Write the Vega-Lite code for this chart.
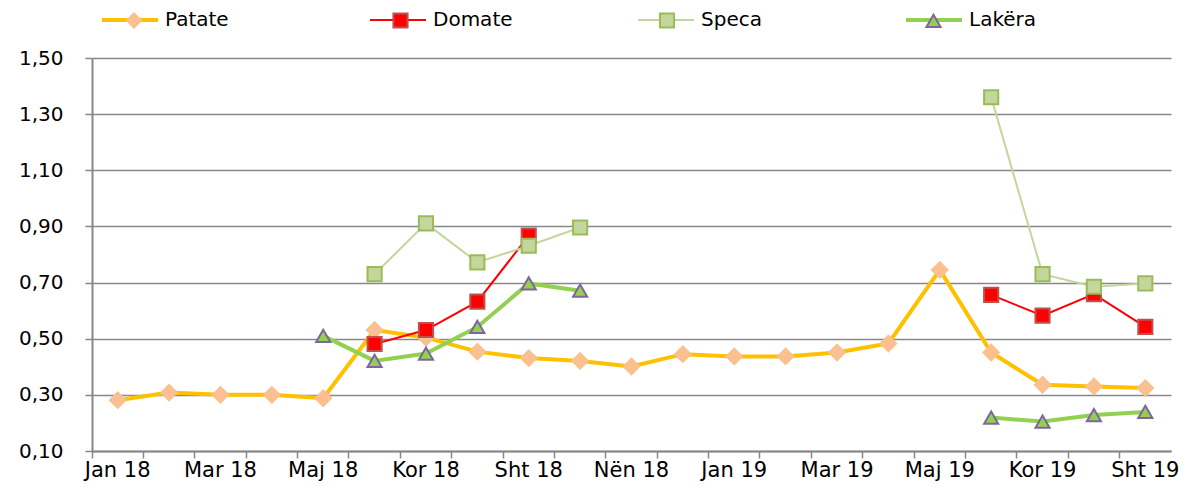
{
  "$schema": "https://vega.github.io/schema/vega-lite/v6.json",
  "autosize": "none",
  "width": 1079,
  "height": 393,
  "padding": {"left": 92, "top": 58, "right": 19, "bottom": 44},
  "background": "white",
  "config": {"view": {"stroke": null}, "font": "DejaVu Sans"},
  "data": {
    "values": [
      {"d": "2018-01-01", "s": "Patate", "v": 0.281, "g": "a"},
      {"d": "2018-02-01", "s": "Patate", "v": 0.308, "g": "a"},
      {"d": "2018-03-01", "s": "Patate", "v": 0.300, "g": "a"},
      {"d": "2018-04-01", "s": "Patate", "v": 0.300, "g": "a"},
      {"d": "2018-05-01", "s": "Patate", "v": 0.288, "g": "a"},
      {"d": "2018-06-01", "s": "Patate", "v": 0.531, "g": "a"},
      {"d": "2018-07-01", "s": "Patate", "v": 0.504, "g": "a"},
      {"d": "2018-08-01", "s": "Patate", "v": 0.454, "g": "a"},
      {"d": "2018-09-01", "s": "Patate", "v": 0.431, "g": "a"},
      {"d": "2018-10-01", "s": "Patate", "v": 0.421, "g": "a"},
      {"d": "2018-11-01", "s": "Patate", "v": 0.401, "g": "a"},
      {"d": "2018-12-01", "s": "Patate", "v": 0.445, "g": "a"},
      {"d": "2019-01-01", "s": "Patate", "v": 0.437, "g": "a"},
      {"d": "2019-02-01", "s": "Patate", "v": 0.437, "g": "a"},
      {"d": "2019-03-01", "s": "Patate", "v": 0.451, "g": "a"},
      {"d": "2019-04-01", "s": "Patate", "v": 0.483, "g": "a"},
      {"d": "2019-05-01", "s": "Patate", "v": 0.745, "g": "a"},
      {"d": "2019-06-01", "s": "Patate", "v": 0.451, "g": "a"},
      {"d": "2019-07-01", "s": "Patate", "v": 0.336, "g": "a"},
      {"d": "2019-08-01", "s": "Patate", "v": 0.330, "g": "a"},
      {"d": "2019-09-01", "s": "Patate", "v": 0.324, "g": "a"},
      {"d": "2018-06-01", "s": "Domate", "v": 0.481, "g": "a"},
      {"d": "2018-07-01", "s": "Domate", "v": 0.531, "g": "a"},
      {"d": "2018-08-01", "s": "Domate", "v": 0.632, "g": "a"},
      {"d": "2018-09-01", "s": "Domate", "v": 0.867, "g": "a"},
      {"d": "2019-06-01", "s": "Domate", "v": 0.656, "g": "b"},
      {"d": "2019-07-01", "s": "Domate", "v": 0.582, "g": "b"},
      {"d": "2019-08-01", "s": "Domate", "v": 0.659, "g": "b"},
      {"d": "2019-09-01", "s": "Domate", "v": 0.542, "g": "b"},
      {"d": "2018-06-01", "s": "Speca", "v": 0.730, "g": "a"},
      {"d": "2018-07-01", "s": "Speca", "v": 0.911, "g": "a"},
      {"d": "2018-08-01", "s": "Speca", "v": 0.772, "g": "a"},
      {"d": "2018-09-01", "s": "Speca", "v": 0.831, "g": "a"},
      {"d": "2018-10-01", "s": "Speca", "v": 0.896, "g": "a"},
      {"d": "2019-06-01", "s": "Speca", "v": 1.360, "g": "b"},
      {"d": "2019-07-01", "s": "Speca", "v": 0.730, "g": "b"},
      {"d": "2019-08-01", "s": "Speca", "v": 0.685, "g": "b"},
      {"d": "2019-09-01", "s": "Speca", "v": 0.697, "g": "b"},
      {"d": "2018-05-01", "s": "Lakëra", "v": 0.510, "g": "a"},
      {"d": "2018-06-01", "s": "Lakëra", "v": 0.421, "g": "a"},
      {"d": "2018-07-01", "s": "Lakëra", "v": 0.447, "g": "a"},
      {"d": "2018-08-01", "s": "Lakëra", "v": 0.542, "g": "a"},
      {"d": "2018-09-01", "s": "Lakëra", "v": 0.697, "g": "a"},
      {"d": "2018-10-01", "s": "Lakëra", "v": 0.671, "g": "a"},
      {"d": "2019-06-01", "s": "Lakëra", "v": 0.219, "g": "b"},
      {"d": "2019-07-01", "s": "Lakëra", "v": 0.205, "g": "b"},
      {"d": "2019-08-01", "s": "Lakëra", "v": 0.228, "g": "b"},
      {"d": "2019-09-01", "s": "Lakëra", "v": 0.239, "g": "b"}
    ]
  },
  "layer": [
    {
      "mark": {"type": "line"},
      "encoding": {
        "x": {
          "field": "d", "type": "ordinal", "timeUnit": "utcyearmonth",
          "scale": {"type": "band", "paddingInner": 0, "paddingOuter": 0},
          "axis": {
            "orient": "bottom", "title": null, "ticks": false, "grid": false,
            "domain": true, "domainColor": "#878787", "domainWidth": 2,
            "labelAngle": 0, "labelFontSize": 21, "labelColor": "#000", "labelPadding": 8,
            "labelFont": "DejaVu Sans",
            "labelExpr": "utcmonth(datum.value) % 2 == 0 ? ['Jan','Shk','Mar','Pri','Maj','Qer','Kor','Gus','Sht','Tet','Nën','Dhj'][utcmonth(datum.value)] + ' ' + utcFormat(datum.value, '%y') : ''"
          }
        },
        "y": {
          "field": "v", "type": "quantitative",
          "scale": {"domain": [0.1, 1.5], "nice": false, "zero": false},
          "axis": {
            "title": null, "values": [0.1, 0.3, 0.5, 0.7, 0.9, 1.1, 1.3, 1.5],
            "labelExpr": "replace(format(datum.value, '.2f'), '.', ',')",
            "grid": true, "gridColor": "#888888", "gridWidth": 1.3,
            "domainColor": "#878787", "domainWidth": 2,
            "tickColor": "#878787", "tickSize": 7, "tickWidth": 1.5,
            "labelFontSize": 20, "labelColor": "#000", "labelPadding": 22, "labelFont": "DejaVu Sans"
          }
        },
        "color": {
          "field": "s", "type": "nominal",
          "scale": {"domain": ["Patate", "Domate", "Speca", "Lakëra"], "range": ["#FFC000", "#FF0000", "#C3D69B", "#92D050"]},
          "legend": {
            "orient": "top", "offset": 28, "direction": "horizontal", "columns": 4,
            "title": null, "symbolType": "stroke", "symbolSize": 3136, "labelFontSize": 20,
            "labelColor": "#000", "labelFont": "DejaVu Sans", "symbolOffset": 28, "labelOffset": 25, "columnPadding": 115,
            "gridAlign": "all", "padding": 0,
            "encode": {"symbols": {"update": {"strokeWidth": {"signal": "datum.value === 'Patate' || datum.value === 'Lakëra' ? 4 : 2"}}}}
          }
        },
        "detail": {"field": "g", "type": "nominal"},
        "strokeWidth": {"condition": {"test": "datum.s === 'Patate' || datum.s === 'Lakëra'", "value": 4}, "value": 2}
      }
    },
    {
      "mark": {"type": "point", "filled": true, "opacity": 1, "strokeWidth": 2},
      "encoding": {
        "x": {
          "field": "d", "type": "ordinal", "timeUnit": "utcyearmonth",
          "axis": {
            "orient": "bottom", "title": null, "labels": false, "domain": false, "grid": false,
            "ticks": true, "bandPosition": 0, "tickSize": 7, "tickColor": "#878787", "tickWidth": 1.5
          }
        },
        "y": {"field": "v", "type": "quantitative"},
        "fill": {
          "field": "s", "type": "nominal", "sort": ["Patate", "Domate", "Speca", "Lakëra"],
          "scale": {"range": ["#FAC090", "#FF0000", "#C3D69B", "#92D050"]},
          "legend": null
        },
        "stroke": {
          "field": "s", "type": "nominal", "sort": ["Patate", "Domate", "Speca", "Lakëra"],
          "scale": {"range": ["#FAC090", "#C0504D", "#9BBB59", "#8064A2"]},
          "legend": null
        },
        "shape": {
          "field": "s", "type": "nominal", "sort": ["Patate", "Domate", "Speca", "Lakëra"],
          "scale": {"range": ["diamond", "square", "square", "triangle-up"]},
          "legend": {
            "orient": "none", "legendX": 11, "legendY": -48, "direction": "horizontal", "columns": 4,
            "title": null, "symbolSize": 200, "symbolOffset": 21, "labelOffset": 27, "labelFontSize": 20,
            "labelExpr": "''", "labelFont": "DejaVu Sans", "columnPadding": 198.5, "gridAlign": "all", "padding": 0,
            "symbolStrokeWidth": 2, "symbolOpacity": 1,
            "symbolFillColor": {"expr": "datum.value === 'Patate' ? '#FAC090' : datum.value === 'Domate' ? '#FF0000' : datum.value === 'Speca' ? '#C3D69B' : '#92D050'"},
            "symbolStrokeColor": {"expr": "datum.value === 'Patate' ? '#FAC090' : datum.value === 'Domate' ? '#C0504D' : datum.value === 'Speca' ? '#9BBB59' : '#8064A2'"}
          }
        },
        "size": {"condition": {"test": "datum.s === 'Patate'", "value": 240}, "value": 200}
      }
    }
  ],
  "resolve": {"axis": {"x": "independent"}}
}
